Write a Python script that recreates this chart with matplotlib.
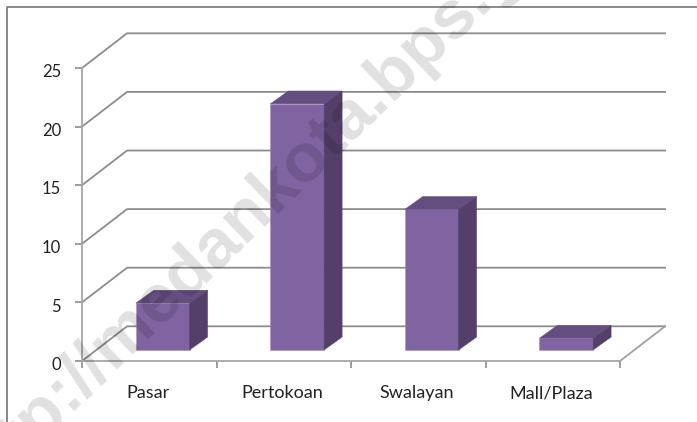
#!/usr/bin/env python3

import matplotlib
matplotlib.use('Agg')
import matplotlib.pyplot as plt
from matplotlib.patches import Polygon
from matplotlib.transforms import ScaledTranslation

categories = ['Pasar', 'Pertokoan', 'Swalayan', 'Mall/Plaza']
values = [4, 21, 12, 1]
yticks = [0, 5, 10, 15, 20, 25]

W, H = 697, 422
GREY = '#8c8c8c'

# 3d look, everything in data units
back_dx, back_dy = 0.335, 2.96
bar_w = 0.40
bar_off = 0.10
bar_floor = 0.94
depth_dx, depth_dy = 0.134, 1.10

fig = plt.figure(figsize=(W/100, H/100), dpi=100)
plt.rcParams['font.family'] = ['Lato', 'DejaVu Sans']

# frame of the pasted image, only left and top show
fig.add_artist(plt.Line2D([6.5/W, 6.5/W, 1], [0, 1-7/H, 1-7/H], color='#808080', lw=1.3))

ax = fig.add_axes([82/W, 1-361/H, 538/W, 293/H])
ax.set_xlim(0, 4)
ax.set_ylim(0, 25)
ax.patch.set_visible(False)
for s in ['top', 'right']:
    ax.spines[s].set_visible(False)
for s in ['left', 'bottom']:
    ax.spines[s].set_color('#a6a6a6')
    ax.spines[s].set_linewidth(1.3)
ax.set_yticks(yticks)
ax.set_xticks(range(5))
ax.set_xticklabels([])
ax.tick_params(axis='y', length=5, width=1.2, color=GREY, labelsize=12, pad=10, labelcolor='#222222')
ax.tick_params(axis='x', length=5, width=1.2, color=GREY)
# digits sit a little under their ticks
for t in ax.get_yticklabels():
    t.set_transform(t.get_transform() + ScaledTranslation(0, -2/72, fig.dpi_scale_trans))

for v in yticks:
    ax.plot([0, back_dx, 4+back_dx], [v, v+back_dy, v+back_dy], color=GREY, lw=1.3,
            clip_on=False, zorder=1, solid_joinstyle='miter')
ax.plot([4, 4+back_dx], [0, back_dy], color='#a0a0a0', lw=1.3, clip_on=False, zorder=1)

for i, (c, v) in enumerate(zip(categories, values)):
    ax.text(i+0.49, -2.75, c, ha='center', va='center', fontsize=13, color='#222222')
    x0 = i + 0.5 + bar_off - bar_w/2
    x1 = x0 + bar_w
    y0 = bar_floor
    y1 = bar_floor + v
    ax.add_patch(Polygon([(x0, y0), (x1, y0), (x1, y1), (x0, y1)], fc='#8064a2', ec='#a593bd', lw=0.4, zorder=3))
    ax.add_patch(Polygon([(x0, y1), (x1, y1), (x1+depth_dx, y1+depth_dy), (x0+depth_dx, y1+depth_dy)],
                         fc='#644e80', ec='#644e80', lw=0.3, zorder=3))
    ax.add_patch(Polygon([(x1, y0), (x1+depth_dx, y0+depth_dy), (x1+depth_dx, y1+depth_dy), (x1, y1)],
                         fc='#533f69', ec='#533f69', lw=0.3, zorder=3))

# watermark sits over the chart
fig.text(281/W, 1-182/H, 'http://medankota.bps.go.id', rotation=44, rotation_mode='anchor',
         ha='center', va='center', fontsize=50, fontweight='bold', family='Liberation Sans',
         color='#000000', alpha=0.12, zorder=10)

fig.savefig('out.png', dpi=100)
